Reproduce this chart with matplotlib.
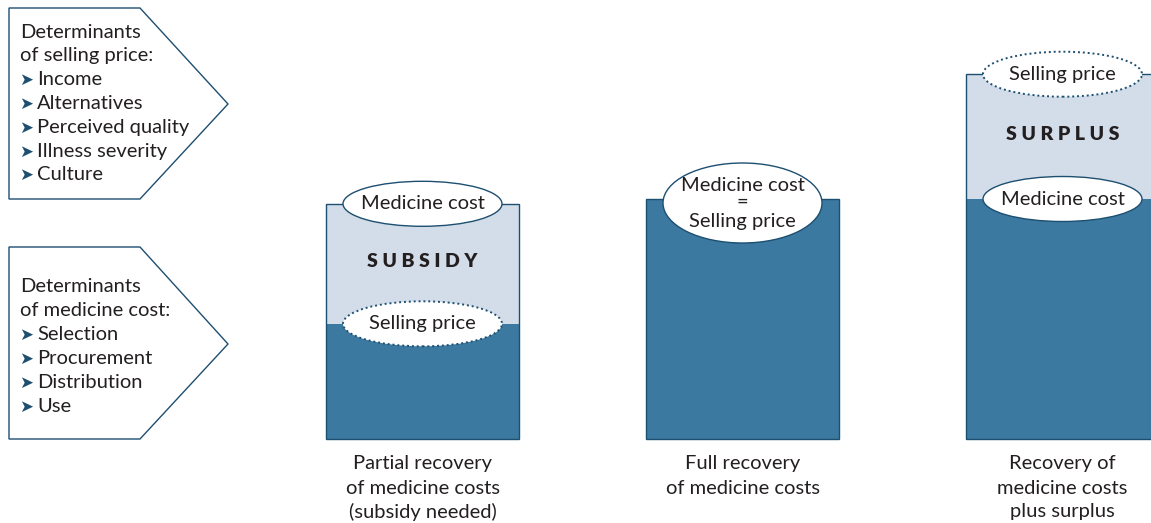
import matplotlib
matplotlib.use("Agg")
import matplotlib.pyplot as plt
from matplotlib.patches import Ellipse, Polygon
from matplotlib.transforms import Affine2D

# ---------------- data ----------------
scenarios = ["Partial recovery\nof medicine costs\n(subsidy needed)",
             "Full recovery\nof medicine costs",
             "Recovery of\nmedicine costs\nplus surplus"]
medicine_cost = [98, 100, 100]
selling_price = [48, 100, 152]
gap_labels = ["SUBSIDY", "", "SURPLUS"]

price_title = "Determinants\nof selling price:"
price_items = ["Income", "Alternatives", "Perceived quality", "Illness severity", "Culture"]
cost_title = "Determinants\nof medicine cost:"
cost_items = ["Selection", "Procurement", "Distribution", "Use"]

# ---------------- style ----------------
W, H = 1151, 523
DARK = "#3b79a0"
LIGHT = "#d3dde9"
EDGE = "#1d4f71"
TXT = "#231f20"
FONT = "Lato"
FS = 14.5

fig = plt.figure(figsize=(W / 100, H / 100), dpi=100)
ax = fig.add_axes([0, 0, 1, 1])
ax.set_axis_off()

# pixel scale of the value axis
PX_PER_UNIT_Y = 2.4
PX_PER_UNIT_X = 320.0
BASE_PX = 439.0
X0_PX = 422.5
ax.set_xlim(-X0_PX / PX_PER_UNIT_X, (W - X0_PX) / PX_PER_UNIT_X)
ax.set_ylim(-(H - BASE_PX) / PX_PER_UNIT_Y, BASE_PX / PX_PER_UNIT_Y)

# pixel transform (origin top-left) for the side boxes
pix = Affine2D().scale(1 / W, -1 / H).translate(0, 1) + fig.transFigure

xs = list(range(len(scenarios)))
bar_w = 193 / PX_PER_UNIT_X
low = [min(c, p) for c, p in zip(medicine_cost, selling_price)]
high = [max(c, p) for c, p in zip(medicine_cost, selling_price)]
gap = [h - l for h, l in zip(high, low)]

ax.bar(xs, low, width=bar_w, color=DARK, edgecolor="none", zorder=1)
ax.bar(xs, gap, bottom=low, width=bar_w, color=LIGHT, edgecolor="none", zorder=1)
ax.bar(xs, high, width=bar_w, fill=False, edgecolor=EDGE, linewidth=1.0, zorder=2)

ew = 159 / PX_PER_UNIT_X
eh = 45 / PX_PER_UNIT_Y
for i in xs:
    c, p = medicine_cost[i], selling_price[i]
    if c == p:
        cy = c - 4 / PX_PER_UNIT_Y
        ax.add_patch(Ellipse((i, cy), ew, 80 / PX_PER_UNIT_Y, facecolor="white",
                             edgecolor=EDGE, linewidth=1.0, zorder=3))
        ax.text(i, cy + 18 / PX_PER_UNIT_Y, "Medicine cost", ha="center", va="center",
                fontsize=FS, family=FONT, color=TXT, zorder=4)
        ax.text(i, cy + 1 / PX_PER_UNIT_Y, "=", ha="center", va="center",
                fontsize=FS, family=FONT, color=TXT, zorder=4)
        ax.text(i, cy - 18 / PX_PER_UNIT_Y, "Selling price", ha="center", va="center",
                fontsize=FS, family=FONT, color=TXT, zorder=4)
    else:
        ax.add_patch(Ellipse((i, c), ew, eh, facecolor="white", edgecolor=EDGE,
                             linewidth=1.0, zorder=3))
        ax.text(i, c, "Medicine cost", ha="center", va="center", fontsize=FS,
                family=FONT, color=TXT, zorder=4)
        ax.add_patch(Ellipse((i, p), ew, eh, facecolor="white", edgecolor=EDGE,
                             linewidth=1.4, linestyle=(0, (1, 1.5)), zorder=3))
        ax.text(i, p, "Selling price", ha="center", va="center", fontsize=FS,
                family=FONT, color=TXT, zorder=4)
        ax.text(i, (c + p) / 2 + 2 / PX_PER_UNIT_Y, " ".join(gap_labels[i]),
                ha="center", va="center", fontsize=14, fontweight="heavy",
                family=FONT, color=TXT, zorder=4)
    for k, ln in enumerate(scenarios[i].split("\n")):
        ypx = 464 + 24 * k
        ax.text(i, (BASE_PX - ypx) / PX_PER_UNIT_Y, ln, ha="center", va="center",
                fontsize=FS, family=FONT, color=TXT)

# ---------------- side boxes ----------------
def side_box(top, bottom, tip_y, title, items, title_y):
    poly = Polygon([(9, top), (140, top), (228, tip_y), (140, bottom), (9, bottom)],
                   closed=True, facecolor="white", edgecolor=EDGE, linewidth=1.0,
                   transform=pix, zorder=2)
    ax.add_patch(poly)
    y = title_y
    for ln in title.split("\n"):
        ax.text(20, y, ln, transform=pix, ha="left", va="center", fontsize=FS,
                family=FONT, color=TXT)
        y += 23.8
    for it in items:
        ax.text(19, y + 0.5, "\u27a4", transform=pix, ha="left", va="center", fontsize=12,
                family="DejaVu Sans", color=EDGE)
        ax.text(37, y, it, transform=pix, ha="left", va="center", fontsize=FS,
                family=FONT, color=TXT)
        y += 23.8

side_box(8, 199, 104, price_title, price_items, 32)
side_box(247, 439, 344, cost_title, cost_items, 287)

fig.savefig("out.png", dpi=100, facecolor="white")
